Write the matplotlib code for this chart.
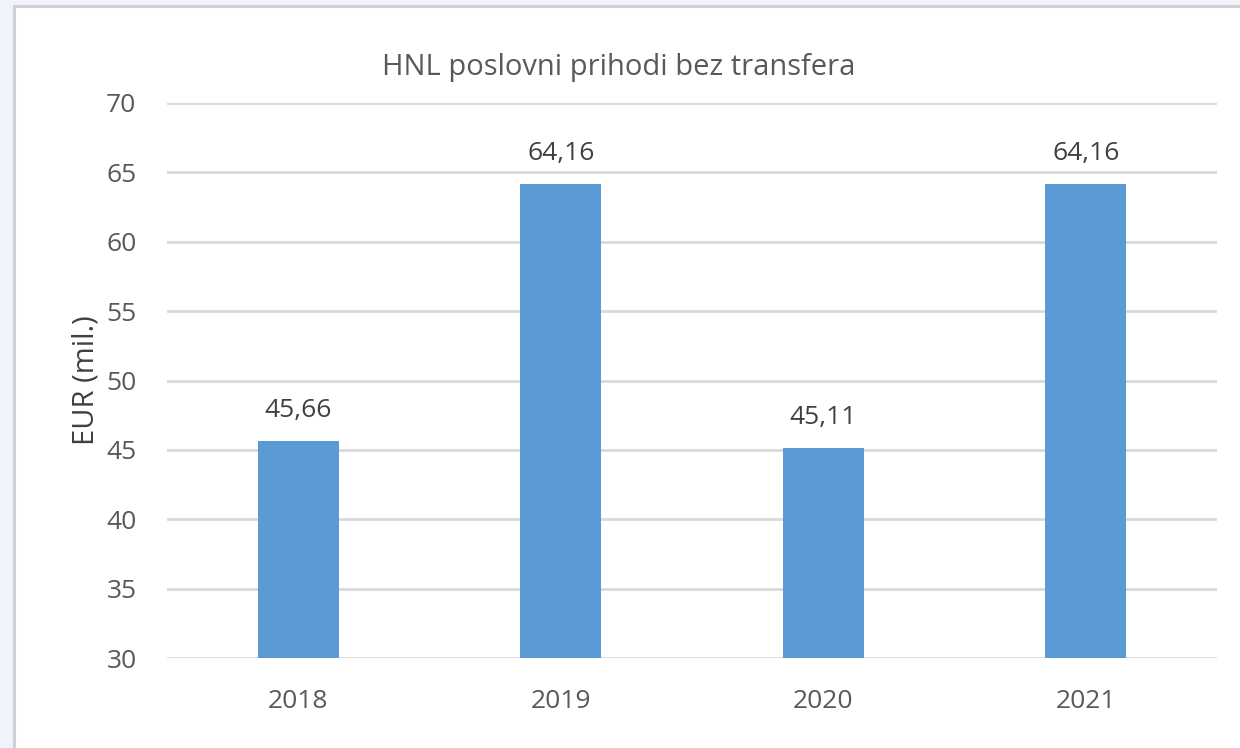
import matplotlib.pyplot as plt
from matplotlib.patches import Rectangle

# data
godine = ["2018", "2019", "2020", "2021"]
prihodi = [45.66, 64.16, 45.11, 64.16]
oznake = ["45,66", "64,16", "45,11", "64,16"]

plt.rcParams['font.family'] = ['Open Sans', 'DejaVu Sans']
txt = '#595959'

fig = plt.figure(figsize=(12.4, 7.48), dpi=100, facecolor='#eef4fa')

# white chart area with gray frame (like a pasted Excel chart)
fig.patches.append(Rectangle((14 / 1240, -0.05), 1.1, 1.05 - 6 / 748, transform=fig.transFigure,
                             facecolor='white', edgecolor='#d0d0d0', linewidth=2.2, zorder=0))

ax = fig.add_axes([167 / 1240, 1 - 658 / 748, 1050 / 1240, 555 / 748])
ax.set_facecolor('none')
ax.set_zorder(2)

x = range(len(godine))
bars = ax.bar(x, prihodi, width=0.31, color='#5b9bd5', zorder=3)
for b, lab in zip(bars, oznake):
    ax.text(b.get_x() + b.get_width() / 2, b.get_height() + 1.3, lab,
            ha='center', va='bottom', fontsize=19, color='#404040')

ax.set_xlim(-0.5, 3.5)
ax.set_ylim(30, 70)
ax.set_yticks(range(30, 71, 5))
ax.set_xticks(list(x))
ax.set_xticklabels(godine)
ax.grid(axis='y', color='#d9d9d9', linewidth=2, zorder=0)
ax.set_axisbelow(True)
for s in ax.spines.values():
    s.set_visible(False)
ax.tick_params(length=0, labelsize=19, colors=txt)
ax.tick_params(axis='y', pad=22)
ax.tick_params(axis='x', pad=22)

ax.set_ylabel("EUR (mil.)", fontsize=21, color='#404040', labelpad=4)
fig.text(619 / 1240, 1 - 68 / 748, "HNL poslovni prihodi bez transfera",
         ha='center', va='center', fontsize=21, color=txt)

fig.savefig("out.png", dpi=100, facecolor=fig.get_facecolor())
